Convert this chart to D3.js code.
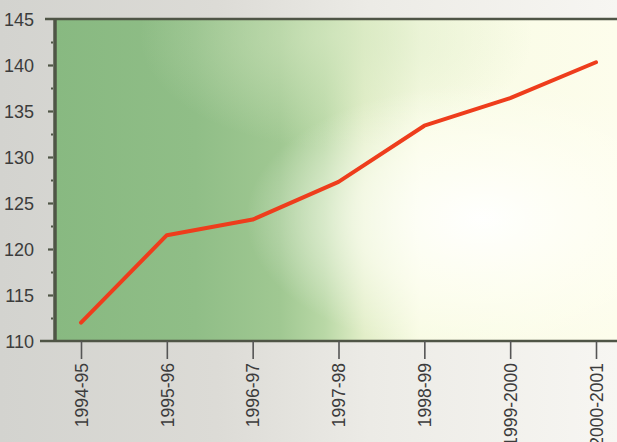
<!DOCTYPE html>
<html><head><meta charset="utf-8">
<script src="https://cdn.jsdelivr.net/npm/d3@7"></script>
<style>
html,body{margin:0;padding:0;background:#d9d9d4;overflow:hidden;}
svg{display:block;}
</style></head>
<body>
<svg id="chart" width="617" height="442"></svg>
<script>
const categories = ["1994-95","1995-96","1996-97","1997-98","1998-99","1999-2000","2000-2001"];
const values = [112.0, 121.5, 123.2, 127.3, 133.4, 136.4, 140.3];
const yTicks = [110,115,120,125,130,135,140,145];
const yMinor = [112.5,117.5,122.5,127.5,132.5,137.5,142.5];

(function(){
const W = 617, H = 442;
const svg = d3.select("#chart");
const defs = svg.append("defs");

const bg = defs.append("linearGradient").attr("id","bg").attr("x1","0").attr("x2","1").attr("y1","0").attr("y2","0");
[["0%","#d3d3cf"],["35%","#dcdbd6"],["60%","#ecebe6"],["100%","#f7f6f2"]].forEach(s=>bg.append("stop").attr("offset",s[0]).attr("stop-color",s[1]));
svg.append("rect").attr("width",W).attr("height",H).attr("fill","url(#bg)");

const pLeft = 55, pTop = 19, pBottom = 341;
const x = d3.scalePoint().domain(categories).range([81, 596]);
const y = d3.scaleLinear().domain([110,145]).range([pBottom, pTop]);

const g1 = defs.append("linearGradient").attr("id","plotg").attr("x1","0").attr("x2","1").attr("y1","0").attr("y2","0");
[["0%","#88b981"],["25%","#90be87"],["40%","#a0c892"],["48%","#b9d8a6"],["55%","#e2eec8"],["65%","#f8fbe3"],["100%","#fdfdec"]].forEach(s=>g1.append("stop").attr("offset",s[0]).attr("stop-color",s[1]));
const g3 = defs.append("radialGradient").attr("id","topglow").attr("cx","0.5").attr("cy","0.05").attr("r","0.35");
[["0%","#d6e8c2",0.7],["100%","#d6e8c2",0]].forEach(s=>g3.append("stop").attr("offset",s[0]).attr("stop-color",s[1]).attr("stop-opacity",s[2]));
const g2 = defs.append("radialGradient").attr("id","glare").attr("cx","0.76").attr("cy","0.62").attr("r","0.42");
[["0%","#ffffff",0.95],["55%","#fffff6",0.6],["100%","#fffff6",0]].forEach(s=>g2.append("stop").attr("offset",s[0]).attr("stop-color",s[1]).attr("stop-opacity",s[2]));

svg.append("rect").attr("x",pLeft).attr("y",pTop).attr("width",W-pLeft).attr("height",pBottom-pTop).attr("fill","url(#plotg)");
svg.append("rect").attr("x",pLeft).attr("y",pTop).attr("width",W-pLeft).attr("height",pBottom-pTop).attr("fill","url(#topglow)");
svg.append("rect").attr("x",pLeft).attr("y",pTop).attr("width",W-pLeft).attr("height",pBottom-pTop).attr("fill","url(#glare)");

const axisColor = "#4f5546";
svg.append("line").attr("x1",45).attr("x2",W).attr("y1",pTop).attr("y2",pTop).attr("stroke",axisColor).attr("stroke-width",2.5);
svg.append("line").attr("x1",40).attr("x2",W).attr("y1",pBottom).attr("y2",pBottom).attr("stroke",axisColor).attr("stroke-width",2.5);
svg.append("line").attr("x1",pLeft).attr("x2",pLeft).attr("y1",pTop).attr("y2",pBottom).attr("stroke",axisColor).attr("stroke-width",3.5);

const font = "'Liberation Sans', Arial, Helvetica, sans-serif";
const yAxis = d3.axisLeft(y).tickValues(yTicks).tickSize(5).tickPadding(14);
const ya = svg.append("g").attr("transform",`translate(${pLeft-2},0)`).call(yAxis);
ya.select(".domain").remove();
ya.selectAll(".tick line").attr("stroke",axisColor).attr("stroke-width",2.2);
ya.selectAll(".tick").filter(d=>d===110||d===145).select("line").remove();
ya.selectAll("text").attr("font-family",font).attr("font-size",18).attr("fill","#3c3c3c").attr("dy","0.36em");

const yAxisMinor = d3.axisLeft(y).tickValues(yMinor).tickSize(2).tickFormat("");
const ym = svg.append("g").attr("transform",`translate(${pLeft-2},0)`).call(yAxisMinor);
ym.select(".domain").remove();
ym.selectAll(".tick line").attr("stroke",axisColor).attr("stroke-width",2.2);

const xAxis = d3.axisBottom(x).tickSize(18).tickPadding(4);
const xa = svg.append("g").attr("transform",`translate(0,${pBottom})`).call(xAxis);
xa.select(".domain").remove();
xa.selectAll(".tick line").attr("stroke","#555").attr("stroke-width",1.6);
xa.selectAll("text")
  .attr("font-family",font).attr("font-size",17.5).attr("fill","#3c3c3c")
  .attr("transform","rotate(-90)").attr("text-anchor","end").attr("dy","0.36em").attr("x",-22).attr("y",0);

const line = d3.line().x((d,i)=>x(categories[i])).y(d=>y(d));
svg.append("path").datum(values).attr("d",line).attr("fill","none")
  .attr("stroke","#ee3d1c").attr("stroke-width",4).attr("stroke-linejoin","round").attr("stroke-linecap","round");
})();
</script>
</body></html>
